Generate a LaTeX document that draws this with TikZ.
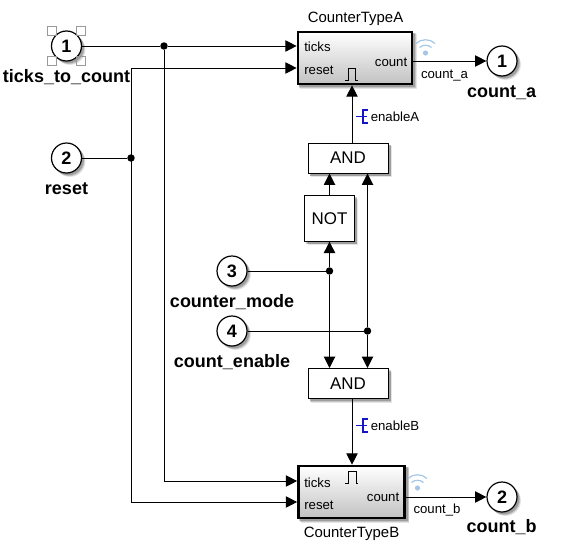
\documentclass[tikz,border=0pt]{standalone}
\usepackage{fontspec}
\setmainfont{Liberation Sans}
\usetikzlibrary{arrows.meta,calc,backgrounds}
\definecolor{tpblue}{RGB}{20,20,200}
\definecolor{wifiblue}{RGB}{165,198,228}
\newcommand{\dropR}[1]{%
 \foreach \o/\g in {3.6/.10,2.8/.14,2/.2}{%
  \fill[black,opacity=\g] ($(#1.north west)+(\o,\o)$) rectangle ($(#1.south east)+(\o,\o)$);}}
\newcommand{\dropC}[1]{%
 \foreach \o/\g in {3.6/.10,2.8/.14,2/.2}{%
  \fill[black,opacity=\g] ($(#1.center)+(\o,\o)$) circle (15.3);}}
\tikzset{
 wire/.style={draw=black,line width=0.75pt,-{Triangle[length=8.5pt,width=8.5pt]}},
 plain/.style={draw=black,line width=0.75pt},
 port/.style={circle,draw=black,line width=0.9pt,fill=white,minimum size=22.5pt,inner sep=0pt,font=\fontsize{13.5}{13.5}\selectfont\bfseries},
 portlabel/.style={font=\fontsize{13.5}{15}\selectfont\bfseries,inner sep=0pt},
 gate/.style={rectangle,draw=black,line width=0.75pt,fill=white,inner sep=0pt,font=\fontsize{12.7}{13}\selectfont},
 subsys/.style={rectangle,draw=black,line width=2pt,top color=white,bottom color=black!24,inner sep=0pt},
 small/.style={font=\fontsize{9.9}{11}\selectfont,inner sep=0pt},
 title/.style={font=\fontsize{11.2}{13}\selectfont,inner sep=0pt},
 dotj/.style={circle,fill=black,inner sep=0pt,minimum size=5.6pt},
 handle/.style={rectangle,draw=black!40,line width=0.6pt,fill=none,minimum size=6.8pt,inner sep=0pt},
 tp/.style={draw=tpblue,line width=0.9pt},
 wifi/.style={draw=wifiblue,line width=0.9pt},
}
\begin{document}
\begin{tikzpicture}[x=0.75pt,y=-0.75pt]
\useasboundingbox (0,0) rectangle (573,553);
% blocks
\node[subsys,minimum width=85.5pt,minimum height=39pt] (A) at (355,58) {};
\node[subsys,minimum width=79.5pt,minimum height=39pt] (B) at (351.5,492) {};
\node[gate,minimum width=60pt,minimum height=22.5pt] (and1) at (348,158) {AND};
\node[gate,minimum width=60pt,minimum height=22.5pt] (and2) at (348,383.5) {AND};
\node[gate,minimum width=37pt,minimum height=34pt] (not) at (329.5,218.5) {NOT};
% ports
\node[port] (in1) at (66.5,46) {1};
\node[port] (in2) at (66.5,158) {2};
\node[port] (in3) at (232,271) {3};
\node[port] (in4) at (232,331) {4};
\node[port] (out1) at (502,61) {1};
\node[port] (out2) at (502,497) {2};
% shadows
\begin{scope}[on background layer]
\dropR{A}\dropR{B}\dropR{and1}\dropR{and2}\dropR{not}
\dropC{in1}\dropC{in2}\dropC{in3}\dropC{in4}\dropC{out1}\dropC{out2}
\end{scope}
% selection handles
\node[handle] (h1) at (52,31) {};
\node[handle] (h2) at (81,31) {};
\node[handle] (h3) at (52,60.5) {};
\node[handle] (h4) at (81,60.5) {};
% port labels
\node[portlabel] (l1) at (66.5,77) {ticks\_to\_count};
\node[portlabel] (l2) at (66.5,189) {reset};
\node[portlabel] (l3) at (232,302) {counter\_mode};
\node[portlabel] (l4) at (232,362) {count\_enable};
\node[portlabel] (l5) at (501.5,92.5) {count\_a};
\node[portlabel] (l6) at (501.5,527.5) {count\_b};
% titles
\node[title] (ta) at (355.5,18.5) {CounterTypeA};
\node[title] (tb) at (351.5,534) {CounterTypeB};
% block port text
\node[small,anchor=west] (pa1) at (304,47) {ticks};
\node[small,anchor=west] (pa2) at (304,70.5) {reset};
\node[small,anchor=east] (pa3) at (407.5,62.5) {count};
\node[small,anchor=west] (pb1) at (304,482.5) {ticks};
\node[small,anchor=west] (pb2) at (304,505.5) {reset};
\node[small,anchor=east] (pb3) at (399.5,497.5) {count};
% signal labels
\node[small] (sa) at (444.5,75.5) {count\_a};
\node[small] (sb) at (437,510.5) {count\_b};
\node[small,anchor=west] (ea) at (370.5,117) {enableA};
\node[small,anchor=west] (eb) at (370.5,426) {enableB};
% coordinates
\coordinate (a1) at (A.west |- 0,46);
\coordinate (a2) at (A.west |- 0,68);
\coordinate (b1) at (B.west |- 0,481);
\coordinate (b2) at (B.west |- 0,502);
\coordinate (acnt) at (A.east |- out1);
\coordinate (bcnt) at (B.east |- out2);
\node[dotj] (j1) at (164,46) {};
\node[dotj] (j2) at (131,158) {};
\node[dotj] (j3) at (329.5,271) {};
\node[dotj] (j4) at (367.5,331) {};
\coordinate (c1) at (131,68);
\coordinate (c2) at (131,502);
\coordinate (c3) at (164,481);
% wires
\draw[plain] (in1) -- (j1);
\draw[wire] (j1) -- (a1);
\draw[wire] (c1) -- (a2);
\draw[plain] (in2) -- (j2);
\draw[plain] (c1) -- (c2);
\draw[wire] (c2) -- (b2);
\draw[plain] (j1) -- (c3);
\draw[wire] (c3) -- (b1);
\draw[wire] (acnt) -- (out1);
\draw[wire] (bcnt) -- (out2);
\draw[wire] (and1.north -| 352,0) -- (A.south -| 352,0);
\draw[wire] (and2.south -| 352,0) -- (B.north -| 352,0);
\draw[plain] (in3) -- (j3);
\draw[plain] (in4) -- (j4);
\draw[wire] (j3) -- (not.south);
\draw[wire] (not.north) -- (and1.south -| not.north);
\draw[wire] (j3) -- (and2.north -| j3);
\draw[wire] (j4) -- (and1.south -| j4);
\draw[wire] (j4) -- (and2.north -| j4);
% enable pulse icons
\draw[line width=0.75pt] (345,80) -- (348,80) -- (348,68) -- (355.5,68) -- (355.5,80) -- (358,80);
\draw[line width=0.75pt] (345,483) -- (348,483) -- (348,471.5) -- (356,471.5) -- (356,483) -- (358,483);
% test points
\draw[tp] (355.5,116.5) -- (367,116.5);
\draw[tp] (368,110) -- (363,110) -- (363,123) -- (368,123);
\draw[tp] (355.5,425.5) -- (367,425.5);
\draw[tp] (368,419) -- (363,419) -- (363,432) -- (368,432);
% logging icons
\fill[wifiblue] (425.5,53) circle (2.6);
\draw[wifi] (419.5,47.5) .. controls (423,44.5) and (428,44.5) .. (431.5,47.5);
\draw[wifi] (416,43.5) .. controls (421,38.5) and (430,38.5) .. (435,43.5);
\fill[wifiblue] (417.5,488) circle (2.6);
\draw[wifi] (411.5,482.5) .. controls (415,479.5) and (420,479.5) .. (423.5,482.5);
\draw[wifi] (408,478.5) .. controls (413,473.5) and (422,473.5) .. (427,478.5);
\end{tikzpicture}
\end{document}
